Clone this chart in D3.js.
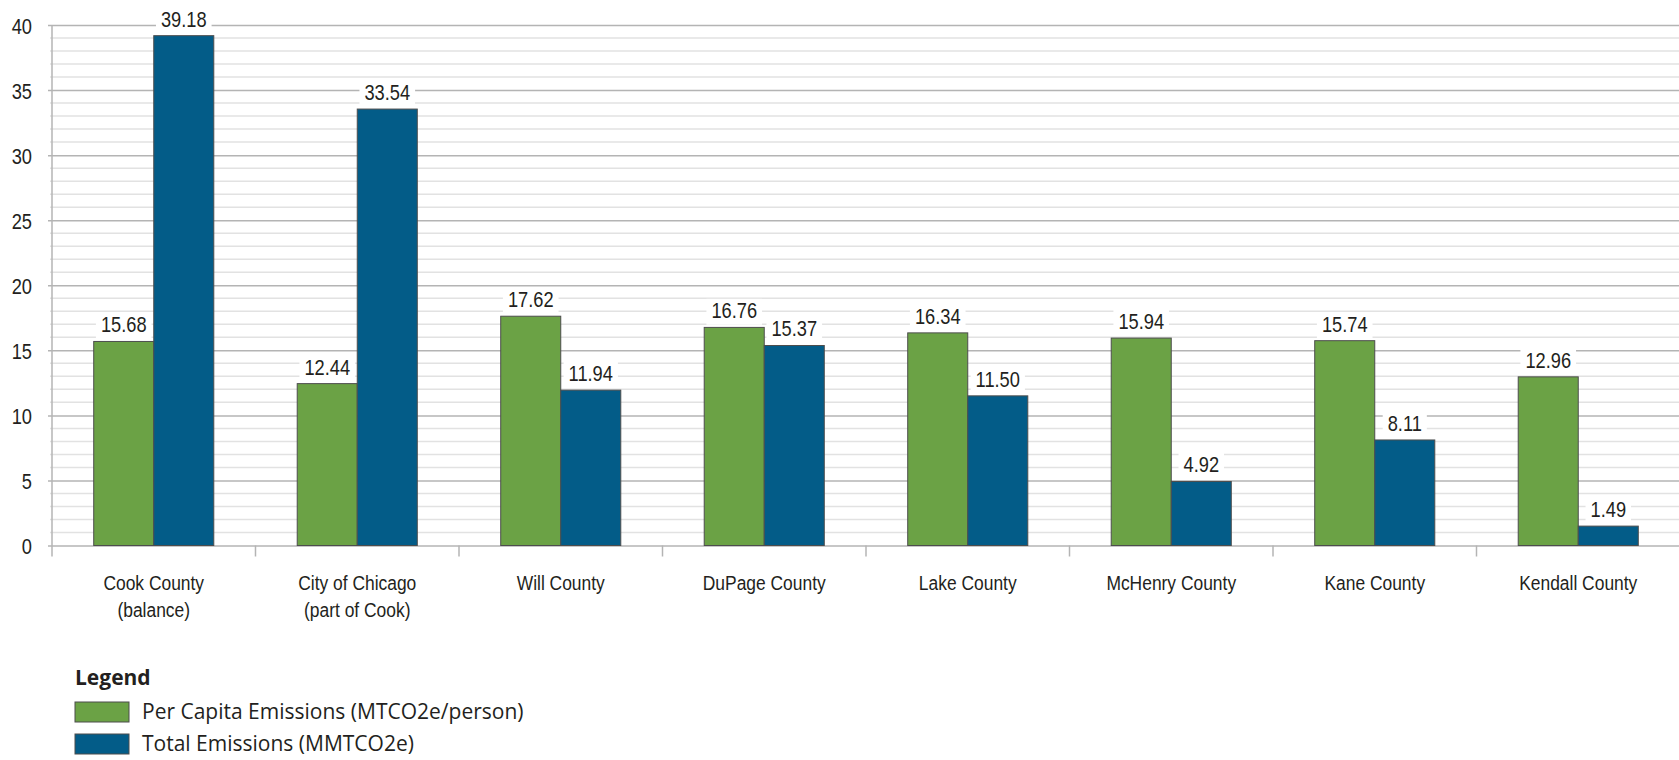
<!DOCTYPE html>
<html>
<head>
<meta charset="utf-8">
<script src="https://cdn.jsdelivr.net/npm/d3@7"></script>
<style>
  body { margin: 0; background: #fff; }
  svg { display: block; }
</style>
</head>
<body>
<svg width="1679" height="760"></svg>
<script>
// data
var counties = [
  ["Cook County", "(balance)"],
  ["City of Chicago", "(part of Cook)"],
  ["Will County"],
  ["DuPage County"],
  ["Lake County"],
  ["McHenry County"],
  ["Kane County"],
  ["Kendall County"]
];
var perCapita = [15.68, 12.44, 17.62, 16.76, 16.34, 15.94, 15.74, 12.96];
var totalEmissions = [39.18, 33.54, 11.94, 15.37, 11.50, 4.92, 8.11, 1.49];
var seriesNames = ["Per Capita Emissions (MTCO2e/person)", "Total Emissions (MMTCO2e)"];
var yTicks = [0, 5, 10, 15, 20, 25, 30, 35, 40];

var colors = ["#6ba245", "#035c88"];
var narrowFont = "'Liberation Sans', Arial, sans-serif";
var squeeze = 0.83; // no condensed face installed, so squeeze horizontally
var textFont = "'Open Sans', 'Noto Sans', sans-serif";

var plotLeft = 52, plotRight = 1680, plotTop = 25, plotBottom = 545.5;

var svg = d3.select("svg");

// draws a horizontally squeezed text centred / anchored at (x, y)
function narrowText(parent, x, y, str, size, anchor) {
  var g = parent.append("g")
      .attr("transform", "translate(" + x + "," + y + ") scale(" + squeeze + ",1)");
  var t = g.append("text")
      .attr("text-anchor", anchor || "middle")
      .style("font-family", narrowFont)
      .style("font-size", size + "px")
      .attr("fill", "#231f20")
      .text(str);
  return g;
}

var x0 = d3.scaleBand()
    .domain(d3.range(counties.length))
    .range([plotLeft, plotRight])
    .paddingInner(0.41)
    .paddingOuter(0.205);

var x1 = d3.scaleBand()
    .domain([0, 1])
    .range([0, x0.bandwidth()]);

var y = d3.scaleLinear()
    .domain([0, 40])
    .range([plotBottom, plotTop]);

// minor grid every 1
svg.append("g").selectAll("line")
  .data(d3.range(1, 41).filter(function(d) { return d % 5 != 0; }))
  .enter().append("line")
    .attr("x1", plotLeft - 2).attr("x2", 1679)
    .attr("y1", function(d) { return y(d); })
    .attr("y2", function(d) { return y(d); })
    .attr("stroke", "#e2e2e2")
    .attr("stroke-width", 1.5);

// major grid every 5 via axis
var yAxis = svg.append("g")
    .attr("transform", "translate(" + plotLeft + ",0)")
    .call(d3.axisLeft(y).tickValues(yTicks).tickSize(-(1679 - plotLeft)).tickSizeOuter(0).tickFormat(""));
yAxis.select(".domain").remove();
yAxis.selectAll(".tick line")
    .attr("x1", -4)
    .attr("stroke", "#b4b4b4")
    .attr("stroke-width", 1.5);
yAxis.selectAll(".tick").each(function(d) {
  narrowText(d3.select(this), -20, 8, d, 22, "end");
});

// vertical axis line and category separators
svg.append("line")
    .attr("x1", plotLeft).attr("x2", plotLeft)
    .attr("y1", plotTop).attr("y2", plotBottom + 11)
    .attr("stroke", "#b4b4b4").attr("stroke-width", 1.5);
svg.selectAll("line.sep")
  .data(d3.range(1, counties.length))
  .enter().append("line")
    .attr("class", "sep")
    .attr("x1", function(d) { return x0(d) - x0.step() * 0.205; })
    .attr("x2", function(d) { return x0(d) - x0.step() * 0.205; })
    .attr("y1", plotBottom).attr("y2", plotBottom + 11)
    .attr("stroke", "#b4b4b4").attr("stroke-width", 1.5);

// bars
var rows = counties.map(function(c, i) {
  return { i: i, vals: [perCapita[i], totalEmissions[i]] };
});

var groups = svg.selectAll("g.county")
  .data(rows)
  .enter().append("g")
    .attr("class", "county")
    .attr("transform", function(d) { return "translate(" + x0(d.i) + ",0)"; });

groups.selectAll("rect")
  .data(function(d) { return d.vals; })
  .enter().append("rect")
    .attr("x", function(d, j) { return x1(j); })
    .attr("y", function(d) { return y(d); })
    .attr("width", x1.bandwidth())
    .attr("height", function(d) { return y(0) - y(d); })
    .attr("fill", function(d, j) { return colors[j]; })
    .attr("stroke", "#4d4d4d")
    .attr("stroke-width", 1);

// value labels on white boxes
groups.each(function(d) {
  var g = d3.select(this);
  d.vals.forEach(function(v, j) {
    var cx = x1(j) + x1.bandwidth() / 2;
    var lab = narrowText(g, cx, y(v) - 9, v.toFixed(2), 22);
    var bb = lab.select("text").node().getBBox();
    lab.insert("rect", "text")
        .attr("x", bb.x - 6).attr("y", bb.y)
        .attr("width", bb.width + 12).attr("height", bb.height + 2)
        .attr("fill", "#fff");
  });
});

// category labels
counties.forEach(function(lines, i) {
  var cx = x0(i) + x0.bandwidth() / 2;
  lines.forEach(function(line, k) {
    narrowText(svg, cx, 590 + k * 27, line, 21);
  });
});

// legend
var legend = svg.append("g").attr("transform", "translate(75,0)");
legend.append("text")
    .attr("x", 0).attr("y", 685)
    .style("font-family", textFont)
    .style("font-weight", "bold")
    .style("font-size", "21px")
    .attr("fill", "#231f20")
    .text("Legend");
seriesNames.forEach(function(name, j) {
  legend.append("rect")
    .attr("x", 0).attr("y", 702 + j * 32)
    .attr("width", 54).attr("height", 20)
    .attr("fill", colors[j])
    .attr("stroke", "#4d4d4d").attr("stroke-width", 1);
  legend.append("text")
    .attr("x", 67).attr("y", 719 + j * 32)
    .style("font-family", textFont)
    .style("font-size", "21px")
    .attr("fill", "#231f20")
    .text(name);
});
</script>
</body>
</html>
